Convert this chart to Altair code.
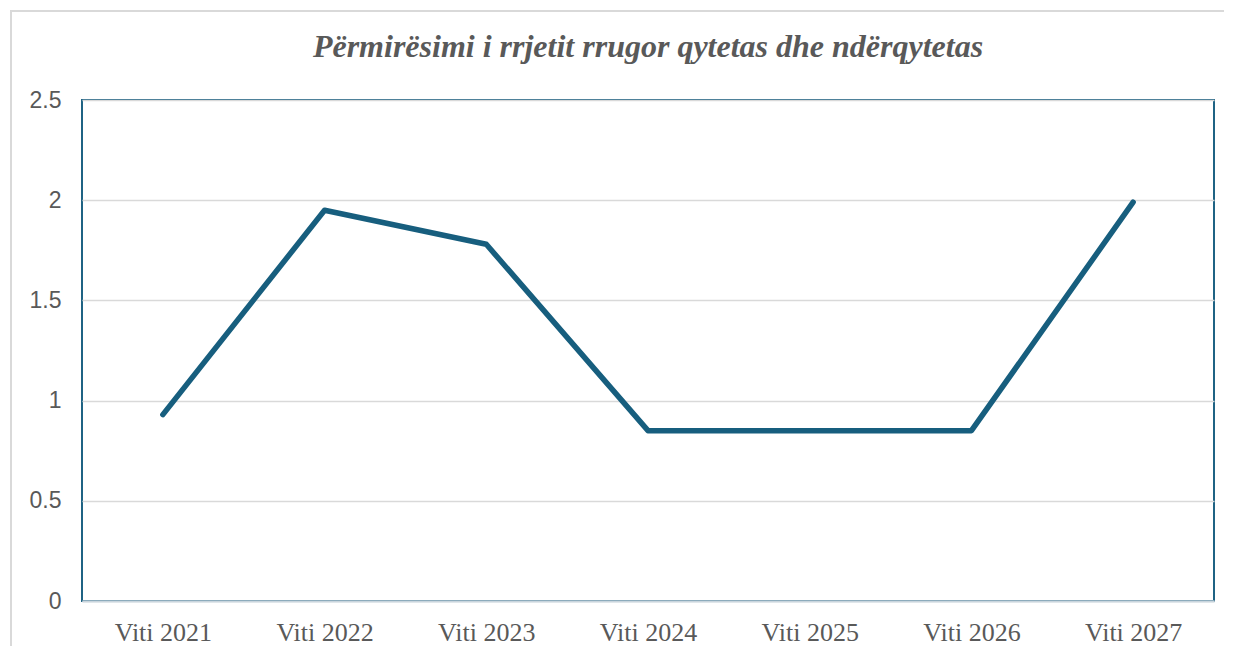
import altair as alt
import pandas as pd

years = ["Viti 2021", "Viti 2022", "Viti 2023", "Viti 2024", "Viti 2025", "Viti 2026", "Viti 2027"]
values = [0.93, 1.95, 1.78, 0.85, 0.85, 0.85, 1.99]

df = pd.DataFrame({"year": years, "value": values})

W, H = 1132, 501
L, T = 74, 92

line = alt.Chart(df).mark_line(color="#175e7e", strokeWidth=5.5, strokeCap="round", strokeJoin="round").encode(
    x=alt.X("year:N", sort=years, title=None,
            scale=alt.Scale(type="point", padding=0.5),
            axis=alt.Axis(labelAngle=0, labelFont="Liberation Serif", labelFontSize=26,
                          labelColor="#595959", labelPadding=18, ticks=False,
                          domainColor="#c9d5dd", domainWidth=2, grid=False)),
    y=alt.Y("value:Q", title=None,
            scale=alt.Scale(domain=[0, 2.5], nice=False),
            axis=alt.Axis(values=[0, 0.5, 1, 1.5, 2, 2.5], labelFont="Liberation Sans", labelFontSize=23,
                          labelColor="#595959", labelPadding=21, ticks=False, domain=False,
                          gridColor="#d9d9d9", gridWidth=1.5, labelExpr="datum.value == 0 ? '0' : format(datum.value, '')")),
)

border = alt.Chart(df).mark_rect(fill=None, stroke="#d9d9d9", strokeWidth=1.5).encode(
    x=alt.value(-71), x2=alt.value(1150), y=alt.value(-89), y2=alt.value(620)
)

chart = alt.layer(border, line).properties(
    width=W, height=H,
    title=alt.TitleParams("Përmirësimi i rrjetit rrugor qytetas dhe ndërqytetas",
                          font="Liberation Serif", fontSize=32, fontStyle="italic", fontWeight="bold",
                          color="#595959", anchor="middle", frame="group", offset=-54),
    autosize=alt.AutoSizeParams(type="none"),
    padding={"left": L, "top": T, "right": 10, "bottom": 45},
).configure_view(stroke="#1f6384", strokeWidth=2)

chart.save("out.html", embed_options={"renderer": "svg", "actions": False})
